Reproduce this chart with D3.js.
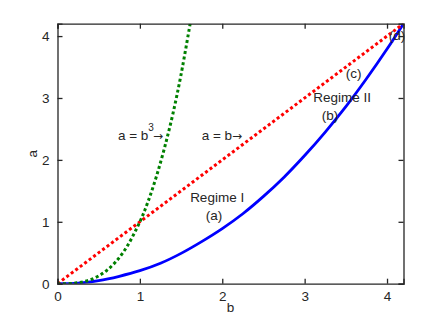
<!DOCTYPE html>
<html><head><meta charset="utf-8">
<script src="https://cdn.jsdelivr.net/npm/d3@7"></script>
<style>body{margin:0;background:#fff}svg{display:block}text{font-family:"Liberation Sans",Arial,sans-serif;fill:#262626}</style>
</head><body><svg id="c" width="445" height="319"></svg>
<script>
// Data
const blueB = [0, 0.25, 0.5, 0.75, 1, 1.25, 1.5, 1.75, 2, 2.25, 2.5, 2.75, 3, 3.25, 3.5, 3.75, 4, 4.2];
const blueA = [0, 0.01, 0.05, 0.12, 0.21, 0.33, 0.49, 0.68, 0.89, 1.13, 1.41, 1.72, 2.07, 2.45, 2.86, 3.31, 3.79, 4.2];
const redB = [0, 4.2];
const redA = [0, 4.2];
const greenB = [0, 0.2, 0.4, 0.6, 0.8, 1.0, 1.1, 1.2, 1.3, 1.4, 1.5, 1.61];
const greenA = [0, 0.008, 0.064, 0.216, 0.512, 1.0, 1.33, 1.73, 2.2, 2.74, 3.38, 4.2];
const xTicks = [0, 1, 2, 3, 4];
const yTicks = [0, 1, 2, 3, 4];
const labels = [
  {text: "Regime I", b: 1.61, a: 1.325},
  {text: "(a)", b: 1.80, a: 1.03},
  {text: "Regime II", b: 3.105, a: 2.93},
  {text: "(b)", b: 3.207, a: 2.645},
  {text: "(c)", b: 3.50, a: 3.32},
  {text: "(d)", b: 4.02, a: 3.94}
];

const svg = d3.select("#c");
const L = 57.5, R = 403.5, T = 23.7, B = 283.7;
const x = d3.scaleLinear().domain([0, 4.2]).range([L, R]);
const y = d3.scaleLinear().domain([0, 4.2]).range([B, T]);

svg.append("clipPath").attr("id", "clip").append("rect")
  .attr("x", L).attr("y", T).attr("width", R - L).attr("height", B - T);

const g = svg.append("g").attr("clip-path", "url(#clip)");
const line = d3.line().x(d => x(d[0])).y(d => y(d[1])).curve(d3.curveCatmullRom);

g.append("path").datum(blueB.map((b, i) => [b, blueA[i]]))
  .attr("d", line).attr("fill", "none").attr("stroke", "#0000ff").attr("stroke-width", 2.8);
g.append("path").datum(redB.map((b, i) => [b, redA[i]]))
  .attr("d", d3.line().x(d => x(d[0])).y(d => y(d[1])))
  .attr("fill", "none").attr("stroke", "#ff0000").attr("stroke-width", 3).attr("stroke-dasharray", "3 2.6");
g.append("path").datum(greenB.map((b, i) => [b, greenA[i]]))
  .attr("d", line).attr("fill", "none").attr("stroke", "#008000").attr("stroke-width", 3).attr("stroke-dasharray", "3 2.6");

// Axes (MATLAB-style box with inward ticks)
const ac = "#262626";
const fs = "13.5px";
const xb = svg.append("g").attr("transform", `translate(0,${B})`)
  .call(d3.axisBottom(x).tickValues(xTicks).tickSize(-5).tickPadding(8).tickFormat(d3.format("d")));
const xt = svg.append("g").attr("transform", `translate(0,${T})`)
  .call(d3.axisTop(x).tickValues(xTicks).tickSize(-5).tickFormat(""));
const yl = svg.append("g").attr("transform", `translate(${L},0)`)
  .call(d3.axisLeft(y).tickValues(yTicks).tickSize(-5).tickPadding(8).tickFormat(d3.format("d")));
const yr = svg.append("g").attr("transform", `translate(${R},0)`)
  .call(d3.axisRight(y).tickValues(yTicks).tickSize(-5).tickFormat(""));
[xb, xt, yl, yr].forEach(a => {
  a.select(".domain").attr("stroke", ac).attr("stroke-width", 1.3);
  a.selectAll(".tick line").attr("stroke", ac).attr("stroke-width", 1.3);
  a.selectAll("text").style("font-size", fs).attr("fill", ac).style("font-family", '"Liberation Sans",Arial,sans-serif');
});

svg.append("text").attr("x", x(2.1)).attr("y", 312).attr("text-anchor", "middle").style("font-size", fs).text("b");
svg.append("text").attr("transform", `translate(37,${y(2.1)}) rotate(-90)`).attr("text-anchor", "middle").style("font-size", fs).text("a");

// annotations
const t1 = svg.append("text").attr("x", x(0.734)).attr("y", y(2.32)).style("font-size", fs);
t1.append("tspan").text("a = b");
t1.append("tspan").attr("dy", -9).style("font-size", "10px").text("3");
t1.append("tspan").attr("dy", 9).attr("dx", -1).style("font-family", "DejaVu Sans").style("font-size", "12px").text("\u2192");
const t2 = svg.append("text").attr("x", x(1.75)).attr("y", y(2.32)).style("font-size", fs);
t2.append("tspan").text("a = b");
t2.append("tspan").style("font-family", "DejaVu Sans").style("font-size", "12px").text("\u2192");

svg.selectAll("text.lab").data(labels).join("text").attr("class", "lab")
  .attr("x", d => x(d.b)).attr("y", d => y(d.a)).style("font-size", fs).text(d => d.text);
</script></body></html>
